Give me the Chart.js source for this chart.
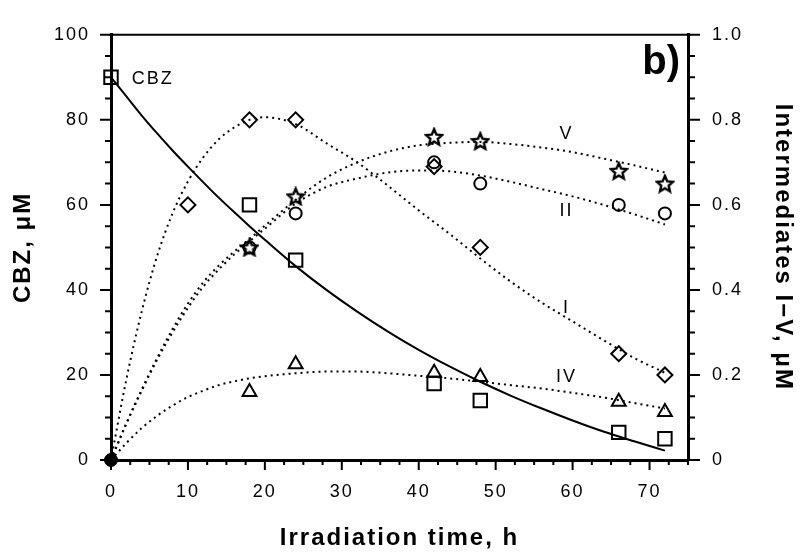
<!DOCTYPE html>
<html>
<head>
<meta charset="utf-8">
<script src="https://cdn.jsdelivr.net/npm/chart.js@4.4.1/dist/chart.umd.min.js"></script>
<style>
  html, body { margin: 0; padding: 0; background: #fff; }
  #wrap { width: 804px; height: 559px; }
</style>
</head>
<body>
<div id="wrap"><canvas id="grafico"></canvas></div>
<script>
// ===== dados medidos =====
const tempoCBZ = [0, 18, 24, 42, 48, 66, 72];
const valCBZ = [90, 60, 47, 18, 14, 6.5, 5];

const tempoI = [10, 18, 24, 42, 48, 66, 72];
const valI = [0.60, 0.80, 0.80, 0.69, 0.50, 0.25, 0.20];

const tempoInter = [18, 24, 42, 48, 66, 72];
const valII = [0.50, 0.58, 0.70, 0.65, 0.60, 0.58];
const valIV = [0.16, 0.225, 0.205, 0.195, 0.137, 0.113];
const valV = [0.50, 0.62, 0.76, 0.75, 0.68, 0.65];

// ===== curvas ajustadas =====
const tempoCurva = [0, 2, 4, 6, 8, 10, 12, 14, 16, 18, 20, 24, 28, 32, 36, 40, 44, 48, 52, 56, 60, 64, 68, 72];
const curvaCBZ = [90, 85.5, 81, 76.8, 72.8, 69, 65.3, 61.7, 58.3, 55, 51.8, 45.6, 40, 34.9, 30.2, 25.9, 22, 18.4, 15.1, 12.1, 9.3, 6.7, 4.4, 2.2];
const curvaI = [0, 0.19, 0.35, 0.48, 0.58, 0.655, 0.712, 0.754, 0.782, 0.80, 0.806, 0.79, 0.745, 0.70, 0.645, 0.587, 0.532, 0.474, 0.419, 0.37, 0.326, 0.282, 0.24, 0.205];
const curvaII = [0, 0.085, 0.163, 0.236, 0.30, 0.358, 0.408, 0.448, 0.483, 0.514, 0.544, 0.603, 0.642, 0.662, 0.676, 0.681, 0.679, 0.669, 0.654, 0.637, 0.62, 0.60, 0.578, 0.554];
const curvaIV = [0, 0.04, 0.075, 0.104, 0.128, 0.148, 0.163, 0.176, 0.185, 0.192, 0.197, 0.204, 0.208, 0.208, 0.204, 0.198, 0.192, 0.184, 0.176, 0.168, 0.158, 0.147, 0.134, 0.121];
const curvaV = [0, 0.087, 0.166, 0.24, 0.308, 0.368, 0.418, 0.457, 0.49, 0.52, 0.551, 0.612, 0.664, 0.70, 0.725, 0.74, 0.746, 0.748, 0.743, 0.735, 0.724, 0.709, 0.693, 0.676];

const origem = [0];

const FONTE = '"Liberation Sans", Arial, Helvetica, sans-serif';
const ESPACO = '2px';

// rotulos das series (coordenadas em dados)
const rotulos = [
    { txt: 'CBZ', x: 2.7, y: 89.6, eixo: 'y', align: 'left' },
    { txt: 'V', x: 59.2, y: 0.766, eixo: 'y1', align: 'center' },
    { txt: 'II', x: 59.2, y: 0.585, eixo: 'y1', align: 'center' },
    { txt: 'I', x: 59.2, y: 0.357, eixo: 'y1', align: 'center' },
    { txt: 'IV', x: 59.2, y: 0.194, eixo: 'y1', align: 'center' }
];

const pares = (xs, ys) => xs.map((x, i) => ({ x: x, y: ys[i] }));

function criarEstrela() {
    const c = document.createElement('canvas');
    c.width = 20; c.height = 20;
    const g = c.getContext('2d');
    g.beginPath();
    for (let i = 0; i < 10; i++) {
        const r = i % 2 === 0 ? 8.5 : 3.9;
        const ang = -Math.PI / 2 + i * Math.PI / 5;
        const px = 10 + r * Math.cos(ang), py = 10.8 + r * Math.sin(ang);
        if (i === 0) g.moveTo(px, py); else g.lineTo(px, py);
    }
    g.closePath();
    g.lineJoin = 'miter';
    g.lineWidth = 2.4;
    g.strokeStyle = '#000';
    g.stroke();
    return c;
}

function curva(dados, eixo, tracejado) {
    return {
        data: pares(tempoCurva, dados),
        yAxisID: eixo,
        showLine: true,
        pointRadius: 0,
        borderColor: '#000',
        borderWidth: 2,
        borderDash: tracejado ? [2, 4] : [],
        cubicInterpolationMode: 'monotone',
        fill: false,
        clip: false
    };
}

function pontos(xs, ys, eixo, estilo, raio) {
    return {
        data: pares(xs, ys),
        yAxisID: eixo,
        showLine: false,
        pointStyle: estilo,
        pointRadius: raio,
        pointBorderWidth: 2,
        pointBorderColor: '#000',
        pointBackgroundColor: 'rgba(0,0,0,0)',
        clip: false
    };
}

const pluginEstilo = {
    id: 'estilo',
    beforeLayout(chart) { chart.ctx.letterSpacing = ESPACO; },
    beforeDraw(chart) { chart.ctx.letterSpacing = ESPACO; },
    afterDraw(chart) {
        const { ctx, chartArea: a, scales } = chart;
        ctx.save();
        ctx.strokeStyle = '#000';
        ctx.lineWidth = 2;
        ctx.beginPath();
        ctx.moveTo(a.left - 1.5, a.top);
        ctx.lineTo(a.right + 1.5, a.top);
        ctx.stroke();

        // marcas dos eixos (principais e secundarias)
        ctx.lineWidth = 2;
        ctx.beginPath();
        for (let i = 0; i <= 30; i++) {
            const px = scales.x.getPixelForValue(i * 2.5);
            const len = i % 4 === 0 ? 10 : 5;
            ctx.moveTo(px, a.bottom);
            ctx.lineTo(px, a.bottom + len);
        }
        for (let i = 0; i <= 20; i++) {
            const py = scales.y.getPixelForValue(i * 5);
            const len = i % 4 === 0 ? 11 : 6;
            ctx.moveTo(a.left - len, py);
            ctx.lineTo(a.left, py);
        }
        for (let i = 0; i <= 20; i++) {
            const py = scales.y1.getPixelForValue(i * 0.05);
            const len = i % 4 === 0 ? 12 : 7;
            ctx.moveTo(a.right, py);
            ctx.lineTo(a.right + len, py);
        }
        ctx.stroke();

        // rotulos das curvas
        ctx.letterSpacing = ESPACO;
        ctx.fillStyle = '#000';
        ctx.textBaseline = 'middle';
        ctx.font = '18px ' + FONTE;
        rotulos.forEach(r => {
            ctx.textAlign = r.align;
            ctx.fillText(r.txt, scales.x.getPixelForValue(r.x), scales[r.eixo].getPixelForValue(r.y));
        });

        // letra do painel
        ctx.letterSpacing = '0px';
        ctx.font = 'bold 40px ' + FONTE;
        ctx.textAlign = 'center';
        ctx.fillText('b)', scales.x.getPixelForValue(71.5), scales.y.getPixelForValue(93.4));
        ctx.restore();
    }
};

const fonteTick = { family: FONTE, size: 18 };
const fonteTitulo = { family: FONTE, size: 24, weight: 'bold' };

new Chart(document.getElementById('grafico').getContext('2d'), {
    type: 'scatter',
    data: {
        datasets: [
            curva(curvaCBZ, 'y', false),
            curva(curvaI, 'y1', true),
            curva(curvaII, 'y1', true),
            curva(curvaIV, 'y1', true),
            curva(curvaV, 'y1', true),
            pontos(tempoCBZ, valCBZ, 'y', 'rect', 9.5),
            pontos(tempoI, valI, 'y1', 'rectRot', 7.5),
            pontos(tempoInter, valII, 'y1', 'circle', 6),
            pontos(tempoInter, valIV, 'y1', 'triangle', 8),
            pontos(tempoInter, valV, 'y1', criarEstrela(), 8),
            {
                data: pares(origem, origem),
                yAxisID: 'y',
                pointRadius: 6.5,
                pointBackgroundColor: '#000',
                pointBorderColor: '#000',
                clip: false
            }
        ]
    },
    options: {
        responsive: true,
        maintainAspectRatio: false,
        animation: false,
        events: [],
        layout: { padding: { top: 21, left: 0, right: 0, bottom: 0 } },
        plugins: { legend: { display: false }, tooltip: { enabled: false } },
        scales: {
            x: {
                type: 'linear', position: 'bottom', min: 0, max: 75,
                afterFit(s) { s.height = 99; },
                grid: { drawOnChartArea: false, drawTicks: false },
                border: { color: '#000', width: 3 },
                ticks: {
                    stepSize: 10, padding: 21, color: '#000', font: fonteTick,
                    autoSkip: false, maxRotation: 0,
                    callback: v => (v % 10 === 0 ? String(v) : '')
                },
                title: { display: true, text: 'Irradiation time, h', color: '#000', font: fonteTitulo, padding: { top: 0, bottom: 6 } }
            },
            y: {
                type: 'linear', position: 'left', min: 0, max: 100,
                afterFit(s) { s.width = 111; },
                grid: { drawOnChartArea: false, drawTicks: false },
                border: { color: '#000', width: 3 },
                ticks: { stepSize: 20, padding: 21, color: '#000', font: fonteTick },
                title: { display: true, text: 'CBZ, μM', color: '#000', font: fonteTitulo, padding: { top: 9, bottom: 0 } }
            },
            y1: {
                type: 'linear', position: 'right', min: 0, max: 1,
                afterFit(s) { s.width = 116; },
                grid: { drawOnChartArea: false, drawTicks: false },
                border: { color: '#000', width: 3 },
                ticks: {
                    stepSize: 0.2, padding: 24, color: '#000', font: fonteTick,
                    callback: v => (v === 0 ? '0' : v.toFixed(1))
                },
                title: { display: true, text: 'Intermediates I−V, μM', color: '#000', font: fonteTitulo, padding: { top: 7, bottom: 0 } }
            }
        }
    },
    plugins: [pluginEstilo]
});
</script>
</body>
</html>
